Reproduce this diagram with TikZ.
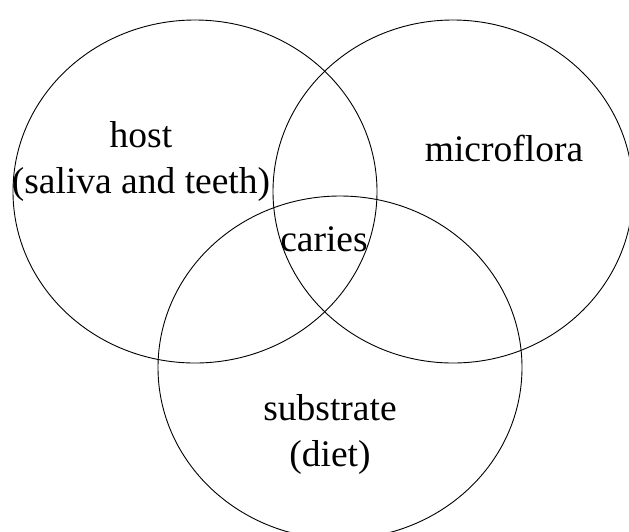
\documentclass[tikz,border=0pt]{standalone}
\usepackage{fontspec}
\setmainfont{Liberation Serif}

\tikzset{
  ring/.style={draw, line width=0.9pt},
  lbl/.style={align=center, inner sep=0pt, font=\fontsize{37.5}{46}\selectfont}
}

\begin{document}
\begin{tikzpicture}[x=1pt,y=-1pt]
    \useasboundingbox (0,0) rectangle (629,531);
    \clip (0,0) rectangle (629,531);
    \draw[ring] (195,191.5) ellipse (182 and 171.5);
    \draw[ring] (453,191.5) ellipse (180 and 171.5);
    \draw[ring] (340,367.5) ellipse (182 and 171.5);
    \node[lbl] (host) at (141,161) {host\\(saliva and teeth)};
    \node[lbl] (flora) at (504,148) {microflora};
    \node[lbl] (caries) at (324,239) {caries};
    \node[lbl] (diet) at (330,434) {substrate\\(diet)};
\end{tikzpicture}
\end{document}
